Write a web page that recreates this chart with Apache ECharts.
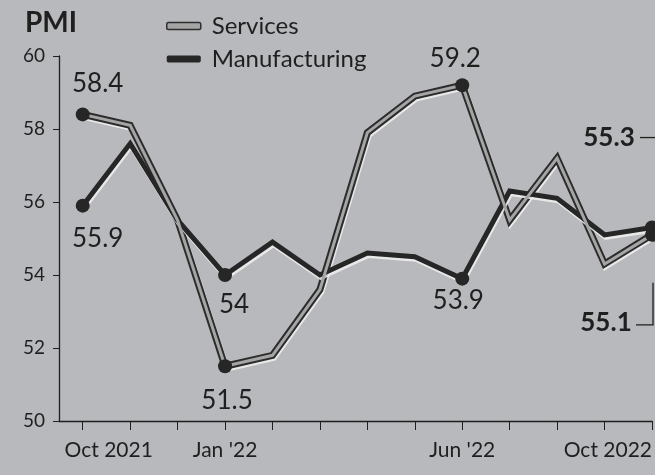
<!DOCTYPE html>
<html>
<head>
<meta charset="utf-8">
<script src="https://cdn.jsdelivr.net/npm/echarts@6/dist/echarts.min.js"></script>
<style>
html,body{margin:0;padding:0;background:#b8b9bc;}
#c{width:655px;height:475px;}
</style>
</head>
<body>
<div id="c"></div>
<script>
const months = ['Oct 2021','Nov','Dec',"Jan '22",'Feb','Mar','Apr','May',"Jun '22",'Jul','Aug','Sep','Oct 2022'];
const shownMonthLabels = ['Oct 2021',"Jan '22","Jun '22",'Oct 2022'];
const services = [58.4,58.1,55.5,51.5,51.8,53.6,57.9,58.9,59.2,55.5,57.2,54.3,55.1];
const manufacturing = [55.9,57.6,55.5,54.0,54.9,54.0,54.6,54.5,53.9,56.3,56.1,55.1,55.3];
const yTicks = [50,52,54,56,58,60];

// annotated points: index -> label placement (offset from point)
const servicesNotes = {0:{off:[15,-31]},3:{off:[2,34]},8:{off:[-7,-27]},12:{off:[-46,88],bold:true}};
const manufNotes = {0:{off:[15,33]},3:{off:[9,30]},8:{off:[-4,22]},12:{off:[-43,-90],bold:true}};

const FONT = 'Lato';
const INK = '#1f1f1f';

function buildData(vals, notes){
  return vals.map((v,i)=>{
    const n = notes[i];
    if(!n) return {value:[i, v], symbolSize:0, label:{show:false}};
    return {
      value:[i, v], symbolSize:14,
      label:{show:true, position:'inside', offset:n.off,
        formatter: String(v % 1 === 0 ? v.toFixed(0) : v),
        fontSize:26, fontFamily:FONT, color:INK,
        fontWeight: n.bold ? 'bold' : 'normal'}
    };
  });
}
const monthIdx = months.map((m,i)=>i);
const labelIdx = shownMonthLabels.map(m=>months.indexOf(m));

const chart = echarts.init(document.getElementById('c'));
chart.setOption({
  backgroundColor:'#b8b9bc',
  animation:false,
  title:{text:'PMI', left:20, top:4, textStyle:{fontFamily:FONT, fontSize:28, fontWeight:'bold', color:INK}},
  legend:{
    orient:'vertical', left:161, top:9, itemGap:9,
    itemWidth:34, itemHeight:7, icon:'roundRect',
    textStyle:{fontFamily:FONT, fontSize:24, color:INK, padding:[0,0,0,6]},
    data:[
      {name:'Services', itemStyle:{color:'#a5a5a5', borderColor:'#2e2e2e', borderWidth:1.5}},
      {name:'Manufacturing', itemStyle:{color:'#262626'}}
    ]
  },
  grid:{left:59, right:3, top:56, bottom:54},
  xAxis:{
    type:'value', min:-0.5, max:months.length-1,
    splitLine:{show:false},
    axisLine:{show:true, onZero:false, lineStyle:{color:INK, width:1.3}},
    axisTick:{show:true, customValues:monthIdx, length:9, lineStyle:{color:INK}},
    axisLabel:{
      customValues:labelIdx,
      formatter:(v)=>{
        const m = months[Math.round(v)];
        return Math.round(v) === 0 ? '{first|' + m + '}' : m;
      },
      rich:{first:{padding:[0,0,0,52], fontFamily:FONT, fontSize:21, color:INK}},
      fontFamily:FONT, fontSize:21, color:INK, margin:19,
      alignMaxLabel:'right'
    }
  },
  yAxis:{
    type:'value', min:yTicks[0], max:yTicks[yTicks.length-1], interval:2,
    axisLine:{show:true, onZero:false, lineStyle:{color:INK, width:1.3}},
    axisTick:{show:true, length:6, lineStyle:{color:INK}},
    splitLine:{show:false},
    axisLabel:{fontFamily:FONT, fontSize:19, color:INK, margin:14}
  },
  series:[
    {
      name:'ServicesOutline', type:'line', data:services.map((v,i)=>[i,v]), symbol:'none', silent:true, z:2,
      lineStyle:{color:'#2c2c2c', width:7, join:'miter',
        shadowColor:'rgba(240,240,240,0.85)', shadowOffsetY:2, shadowOffsetX:1, shadowBlur:0}
    },
    {
      name:'Services', type:'line', data:buildData(services, servicesNotes), z:5,
      symbol:'circle', showSymbol:true,
      itemStyle:{color:'#262626'},
      lineStyle:{color:'#a5a5a5', width:3, join:'miter'}
    },
    {
      name:'Manufacturing', type:'line', data:buildData(manufacturing, manufNotes), z:4,
      symbol:'circle', showSymbol:true,
      itemStyle:{color:'#262626'},
      lineStyle:{color:'#262626', width:5, join:'miter',
        shadowColor:'rgba(240,240,240,0.85)', shadowOffsetY:2.5, shadowOffsetX:1, shadowBlur:0}
    }
  ]
});

// leader lines for the final labels
const last = months.length-1;
const pM = chart.convertToPixel({seriesIndex:2}, [last, manufacturing[last]]);
const pS = chart.convertToPixel({seriesIndex:1}, [last, services[last]]);
const yM = pM[1] + manufNotes[last].off[1];
const yS = pS[1] + servicesNotes[last].off[1] + 2;
chart.setOption({
  graphic:[
    {type:'line', shape:{x1:pM[0]-12, y1:yM, x2:pM[0]+4, y2:yM}, style:{stroke:INK, lineWidth:1.3}},
    {type:'polyline', shape:{points:[[pS[0]-16, yS],[pS[0]+1, yS],[pS[0]+1, yS-42]]}, style:{stroke:INK, lineWidth:1.3, fill:null}}
  ]
});
</script>
</body>
</html>
